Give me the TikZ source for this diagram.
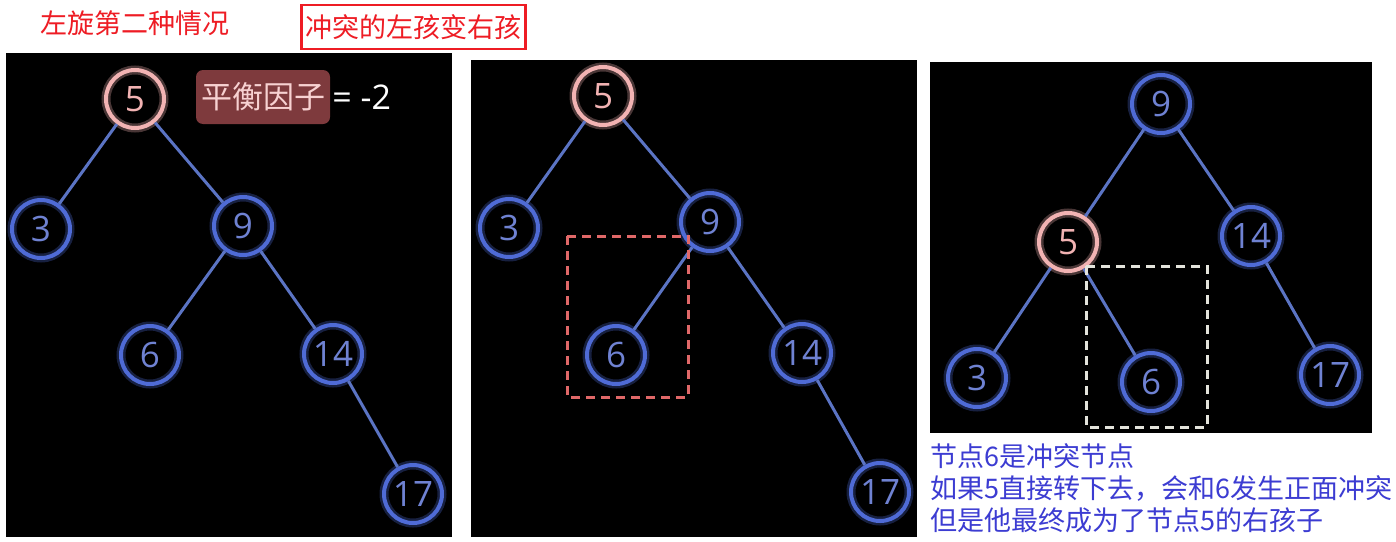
\documentclass[tikz,border=0pt]{standalone}
\usepackage{fontspec}
\setmainfont{Open Sans}
\newfontfamily\cjk{Noto Sans CJK SC}
\usetikzlibrary{positioning}

\definecolor{ringblue}{HTML}{4F6BD6}
\definecolor{digitblue}{HTML}{6F82D2}
\definecolor{edgeblue}{HTML}{5B74C4}
\definecolor{ringpink}{HTML}{F2B3B3}
\definecolor{notered}{HTML}{EE1C24}
\definecolor{noteblue}{HTML}{3C3CD2}
\definecolor{badge}{HTML}{7E3A3D}
\definecolor{dashred}{HTML}{E06868}
\definecolor{dashwhite}{HTML}{E4E4DC}

\begin{document}
\begin{tikzpicture}[x = 1pt, y = -1pt,
                    ring/.style = {circle, draw = #1, line width = 4pt, minimum size = 58pt, inner sep = 0pt,
                                   preaction = {draw = #1, line width = 9pt, draw opacity = 0.3}},
                    key/.style = {ring = ringblue, text = digitblue, font = \fontsize{35}{35}\selectfont},
                    hot/.style = {ring = ringpink, text = ringpink, font = \fontsize{35}{35}\selectfont},
                    edge/.style = {draw = edgeblue, line width = 3pt},
                    note/.style = {font = \cjk\fontsize{27}{32}\selectfont}]
  \useasboundingbox [fill = white] (0, 0) rectangle (1396, 541);
  \fill [black] (6, 53) rectangle (452, 537);
  \fill [black] (471, 60) rectangle (917, 537);
  \fill [black] (930, 62) rectangle (1372, 433);
  % headings
  \node [note, text = notered, anchor = west, inner sep = 0pt] (title) at (40, 23) {左旋第二种情况};
  \node [note, text = notered, draw = notered, line width = 2.5pt, inner xsep = 4pt,
         minimum height = 44pt] (hint) at (413.5, 27) {冲突的左孩变右孩};
  % first tree
  \node [hot] (A5) at (135, 99) {5};
  \node [key] (A3) at (41, 229) {3};
  \node [key] (A9) at (243, 226) {9};
  \node [key] (A6) at (150, 355) {6};
  \node [key] (A14) at (333, 354) {14};
  \node [key] (A17) at (413, 494) {17};
  \node [fill = badge, rounded corners = 7pt, text = ringpink!60!white, minimum width = 134pt,
         minimum height = 54pt, font = \cjk\fontsize{31}{31}\selectfont] (bf) at (263, 97) {平衡因子};
  \node [right = 0pt of bf, inner sep = 2pt, text = white, font = \fontsize{34}{34}\selectfont] (bv) {= -2};
  \draw [edge] (A5) -- (A3);
  \draw [edge] (A5) -- (A9) -- (A6);
  \draw [edge] (A9) -- (A14) -- (A17);
  % second tree
  \node [hot] (B5) at (603, 96) {5};
  \node [key] (B3) at (509, 228) {3};
  \node [key] (B9) at (710, 222) {9};
  \node [key] (B6) at (616, 355) {6};
  \node [key] (B14) at (802, 353) {14};
  \node [key] (B17) at (880, 492) {17};
  \draw [edge] (B5) -- (B3);
  \draw [edge] (B5) -- (B9) -- (B6);
  \draw [edge] (B9) -- (B14) -- (B17);
  \draw [dashred, line width = 3pt, dash pattern = on 9pt off 6pt] (567, 236) rectangle (688, 397);
  % third tree
  \node [key] (C9) at (1161, 104) {9};
  \node [hot] (C5) at (1068, 242) {5};
  \node [key] (C14) at (1251, 236) {14};
  \node [key] (C3) at (977, 378) {3};
  \node [key] (C6) at (1151, 382) {6};
  \node [key] (C17) at (1330, 375) {17};
  \draw [edge] (C9) -- (C5) -- (C3);
  \draw [edge] (C5) -- (C6);
  \draw [edge] (C9) -- (C14) -- (C17);
  \draw [dashwhite, line width = 3pt, dash pattern = on 9pt off 6pt] (1086, 266) rectangle (1207, 427);
  % explanation
  \node [note, text = noteblue, anchor = north west, align = left, inner sep = 0pt] (expl) at (930, 443)
    {节点6是冲突节点\\如果5直接转下去，会和6发生正面冲突\\但是他最终成为了节点5的右孩子};
\end{tikzpicture}
\end{document}
